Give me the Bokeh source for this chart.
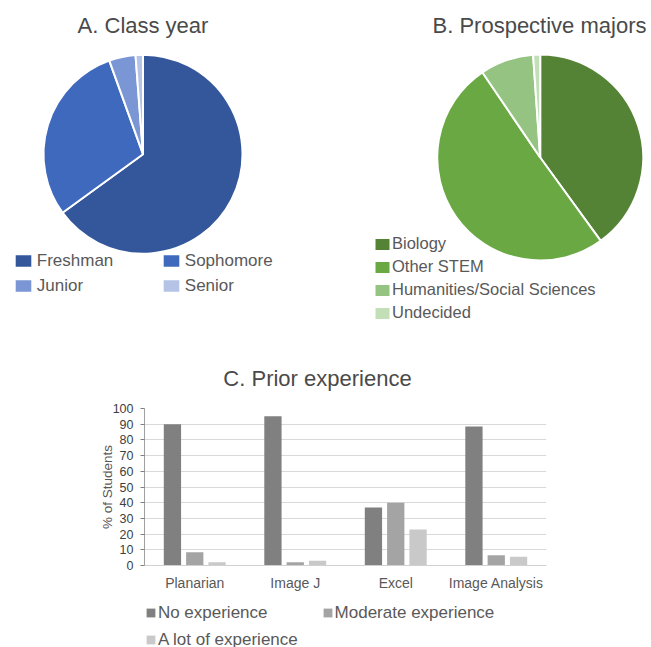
import math
from bokeh.plotting import figure
from bokeh.models import (Range1d, ColumnDataSource, Legend, LegendItem, Label,
                          FactorRange, FixedTicker)
from bokeh.transform import dodge
from bokeh.layouts import column, row
from bokeh.embed import file_html
from bokeh.resources import INLINE

# ---------------- data ----------------
class_years = ["Freshman", "Sophomore", "Junior", "Senior"]
class_pct = [65.0, 29.5, 4.3, 1.2]
class_colors = ["#33579a", "#3f69bd", "#7b96d5", "#b5c3e7"]

majors = ["Biology", "Other STEM", "Humanities/Social Sciences", "Undecided"]
major_pct = [40.0, 50.5, 8.4, 1.1]
major_colors = ["#548335", "#6aa843", "#95c482", "#c3dfb7"]

tools = ["Planarian", "Image J", "Excel", "Image Analysis"]
levels = ["No experience", "Moderate experience", "A lot of experience"]
no_exp = [90.0, 95.0, 37.0, 88.5]
moderate = [8.5, 2.0, 40.0, 6.5]
a_lot = [2.0, 3.0, 23.0, 5.5]
level_colors = ["#808080", "#a4a4a4", "#c9c9c9"]
y_ticks = [0, 10, 20, 30, 40, 50, 60, 70, 80, 90, 100]

FONT = "Liberation Sans"
TXT = "#595959"
TITLE = "#4a4a4a"

# bar-chart frame edges (page pixels)
C_LEFT, C_RIGHT, PAGE_W = 144, 546, 651


def base_fig(w, h, x0=0, x1=None, bl=0, br=0):
    x1 = w if x1 is None else x1
    p = figure(width=w, height=h, x_range=Range1d(x0, x1), y_range=Range1d(0, h),
               output_backend="svg", toolbar_location=None,
               x_axis_location=None, y_axis_location=None, min_border=0,
               min_border_left=bl, min_border_right=br)
    p.grid.visible = False
    p.outline_line_color = None
    return p


def wedge_source(values, colors):
    total = float(sum(values))
    starts, ends, acc = [], [], 0.0
    for v in values:
        starts.append(math.pi / 2 - 2 * math.pi * acc / total)
        acc += v
        ends.append(math.pi / 2 - 2 * math.pi * acc / total)
    return ColumnDataSource(dict(start=starts, end=ends, color=colors, value=values))


def make_legend(items, loc, font_size, gw, gh, standoff, lh, spacing):
    return Legend(items=items, location=loc, orientation="vertical",
                  glyph_width=gw, glyph_height=gh, label_standoff=standoff,
                  label_text_font=FONT, label_text_font_size=font_size,
                  label_text_color=TXT, label_height=lh,
                  spacing=spacing, padding=0, margin=0, border_line_color=None,
                  background_fill_alpha=0)


TOP_H = 322

# ---------------- Pie A ----------------
WA = 333
pa = base_fig(WA, TOP_H)
src_a = wedge_source(class_pct, class_colors)
ra = pa.wedge(x=142.5, y=168.3, radius=99.5, start_angle="start", end_angle="end",
              direction="clock", fill_color="color", line_color="white",
              line_width=2, source=src_a)
pa.add_layout(Label(x=142.5, y=297, text="A. Class year", text_align="center",
                    text_baseline="middle", text_font=FONT, text_font_size="22px",
                    text_color=TITLE))
for idxs, lx in (([0, 2], 11.8), ([1, 3], 159.8)):
    items = [LegendItem(label=class_years[i], renderers=[ra], index=i) for i in idxs]
    pa.add_layout(make_legend(items, (lx, 25.3), "17px", 22, 17, 3, 22, 3))

# ---------------- Pie B ----------------
WB = 318
pb = base_fig(WB, TOP_H)
src_b = wedge_source(major_pct, major_colors)
rb = pb.wedge(x=206.7, y=165, radius=103, start_angle="start", end_angle="end",
              direction="clock", fill_color="color", line_color="white",
              line_width=2, source=src_b)
pb.add_layout(Label(x=206, y=297, text="B. Prospective majors", text_align="center",
                    text_baseline="middle", text_font=FONT, text_font_size="22px",
                    text_color=TITLE))
items_b = [LegendItem(label=majors[i], renderers=[rb], index=i) for i in range(4)]
pb.add_layout(make_legend(items_b, (39, -1.2), "16.5px", 20, 16, 0, 21, 2))

# ---------------- Title for C (frame aligned with the bar chart) ----------------
pt = base_fig(PAGE_W, 78, C_LEFT, C_RIGHT, C_LEFT, PAGE_W - C_RIGHT)
pt.add_layout(Label(x=317, y=22, text="C. Prior experience", text_align="center",
                    text_baseline="middle", text_font=FONT, text_font_size="22px",
                    text_color=TITLE))

# ---------------- Bar chart C ----------------
src_c = ColumnDataSource(dict(tool=tools, no=no_exp, mod=moderate, lot=a_lot))
pc = figure(width=PAGE_W, height=197, x_range=FactorRange(*tools, range_padding=0),
            y_range=Range1d(0, 100), output_backend="svg", toolbar_location=None,
            min_border_left=C_LEFT, min_border_right=PAGE_W - C_RIGHT,
            min_border_top=8, min_border_bottom=32)
pc.outline_line_color = None
pc.xgrid.visible = False
pc.ygrid.grid_line_color = "#d9d9d9"
pc.ygrid.grid_line_width = 1

offsets = [-0.222, 0.0, 0.222]
cols = ["no", "mod", "lot"]
for off, c, col in zip(offsets, cols, level_colors):
    pc.vbar(x=dodge("tool", off, range=pc.x_range), top=c, width=0.172,
            fill_color=col, line_color=None, source=src_c)

pc.yaxis.ticker = FixedTicker(ticks=y_ticks)
pc.yaxis.axis_label = "% of Students"
pc.yaxis.axis_label_text_font = FONT
pc.yaxis.axis_label_text_font_size = "13.5px"
pc.yaxis.axis_label_text_font_style = "normal"
pc.yaxis.axis_label_text_color = TXT
pc.yaxis.axis_label_standoff = -5
pc.yaxis.major_label_text_font = FONT
pc.yaxis.major_label_text_font_size = "12.5px"
pc.yaxis.major_label_text_color = "#404040"
pc.yaxis.major_label_standoff = 7
pc.yaxis.axis_line_color = "#a0a0a0"
pc.yaxis.major_tick_line_color = "#808080"
pc.yaxis.major_tick_out = 4
pc.yaxis.major_tick_in = 0
pc.yaxis.minor_tick_line_color = None

pc.xaxis.major_label_text_font = FONT
pc.xaxis.major_label_text_font_size = "14px"
pc.xaxis.major_label_text_color = TXT
pc.xaxis.major_label_standoff = 9
pc.xaxis.axis_line_color = "#d0d0d0"
pc.xaxis.major_tick_line_color = None
pc.xaxis.major_tick_out = 0
pc.xaxis.major_tick_in = 0
pc.xaxis.minor_tick_line_color = None

# ---------------- Legend for C (own strip, frame aligned with the chart) -------
pl = base_fig(PAGE_W, 50, C_LEFT, C_RIGHT, C_LEFT, PAGE_W - C_RIGHT)
keys = []
for col in level_colors:
    keys.append(pl.vbar(x=[C_LEFT], top=[0], width=1, fill_color=col,
                        line_color=None, visible=False))
pl.add_layout(make_legend([LegendItem(label=levels[0], renderers=[keys[0]]),
                           LegendItem(label=levels[2], renderers=[keys[2]])],
                          (0.9, -3.5), "17px", 11, 11, 2, 22, 5))
pl.add_layout(make_legend([LegendItem(label=levels[1], renderers=[keys[1]])],
                          (177.6, 23.5), "17px", 11, 11, 2, 22, 5))

layout = column(row(pa, pb, spacing=0), pt, pc, pl, spacing=0)
open("out.html", "w").write(file_html(layout, INLINE))
